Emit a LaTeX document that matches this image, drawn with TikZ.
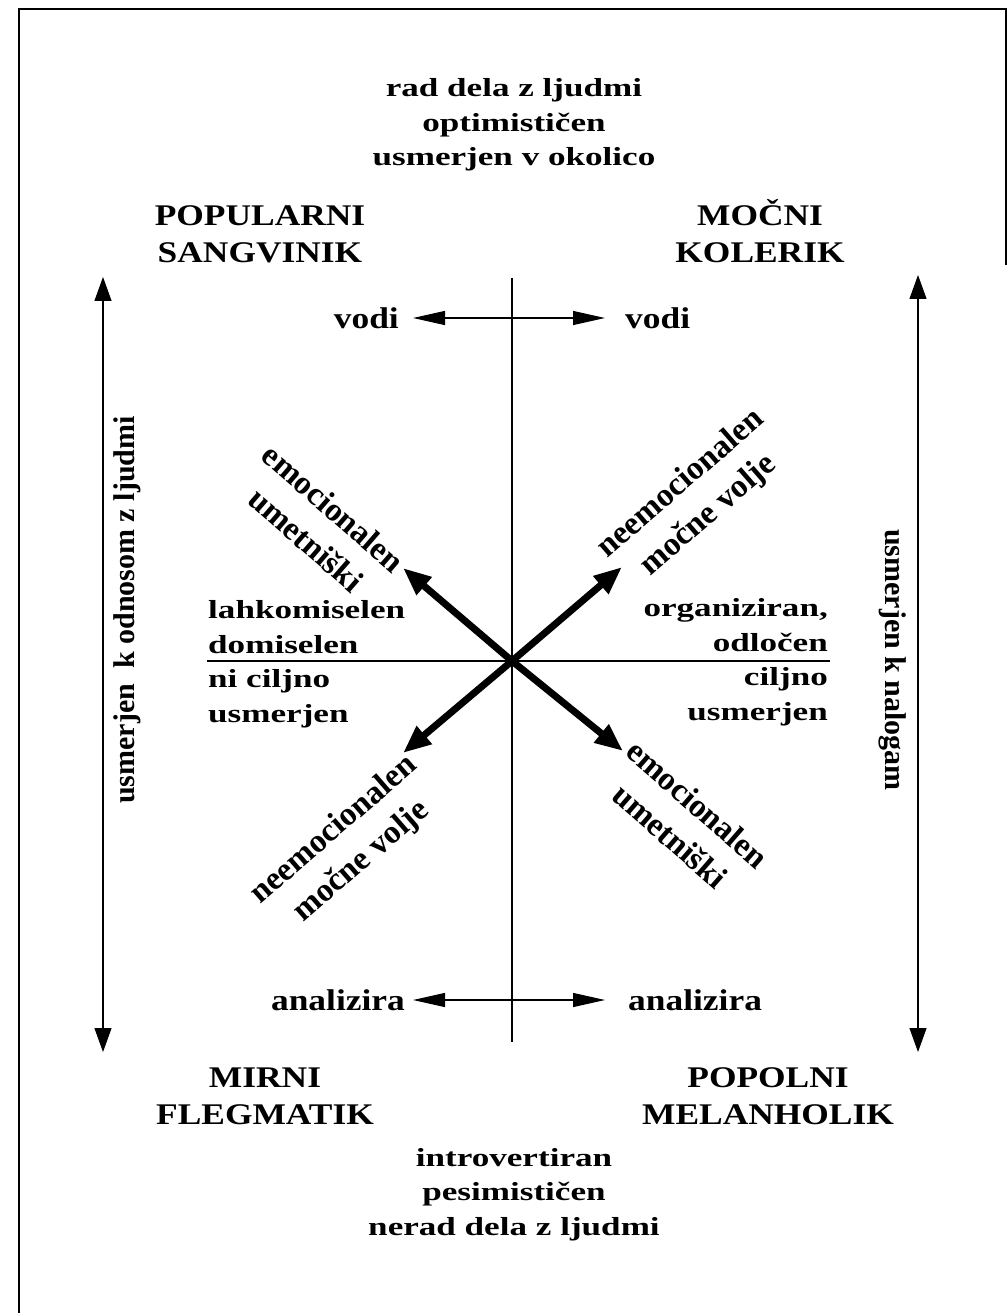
\documentclass[tikz,border=0pt]{standalone}
\usepackage{fontspec}
\setmainfont{Liberation Serif}
\newfontfamily\txtfont[FakeStretch=1.35]{Liberation Serif}
\newfontfamily\capfont[FakeStretch=1.18]{Liberation Serif}
\usetikzlibrary{arrows.meta,positioning}

\begin{document}
\begin{tikzpicture}[
    x=1pt, y=-1pt,
    txt/.style={font=\txtfont\bfseries\fontsize{26}{34.5}\selectfont, inner sep=0pt, align=center},
    kind/.style={font=\capfont\bfseries\fontsize{30}{37}\selectfont, inner sep=0pt, align=center},
    upr/.style={font=\bfseries\fontsize{30}{36}\selectfont, inner sep=0pt},
    slant/.style={font=\bfseries\fontsize{33}{42}\selectfont, inner sep=0pt, align=center},
    rule/.style={line width=1.2pt},
    twoway/.style={{Triangle[length=32pt,width=14pt]}-{Triangle[length=32pt,width=14pt]}, line width=1.2pt},
    tall/.style={{Triangle[length=24pt,width=17pt]}-{Triangle[length=24pt,width=17pt]}, line width=1.2pt},
    fat/.style={-{Triangle[length=28pt,width=22pt]}, line width=7pt}
  ]
  \useasboundingbox (0,0) rectangle (1008,1313);
  \draw[line width=2.5pt] (1006,265) -- (1006,9) -- (19,9) -- (19,1313);

  \coordinate (o) at (512,661);
  \coordinate (top) at (512,278);
  \coordinate (bot) at (512,1042);
  \coordinate (west) at (207,661);
  \coordinate (east) at (830,661);
  \coordinate (vl) at (413,318);
  \coordinate (vr) at (605,318);
  \coordinate (al) at (413,1000);
  \coordinate (ar) at (605,1000);
  \coordinate (lt) at (103,277);
  \coordinate (lb) at (103,1052);
  \coordinate (rt) at (918,275);
  \coordinate (rb) at (918,1052);
  \coordinate (nw) at (403,568);
  \coordinate (ne) at (622,567);
  \coordinate (sw) at (403,753);
  \coordinate (se) at (623,751);

  \node[txt, anchor=base] (head) at (514,166) {rad dela z ljudmi\\optimističen\\usmerjen v okolico};
  \node[kind, anchor=base] (sang) at (260,263) {POPULARNI\\SANGVINIK};
  \node[kind, anchor=base] (kole) at (760,263) {MOČNI\\KOLERIK};
  \node[kind, anchor=base] (fleg) at (265,1124) {MIRNI\\FLEGMATIK};
  \node[kind, anchor=base] (mela) at (768,1124) {POPOLNI\\MELANHOLIK};
  \node[txt, anchor=base] (foot) at (514,1235) {introvertiran\\pesimističen\\nerad dela z ljudmi};

  \node[kind, left=14pt of vl] (vodil) {vodi};
  \node[kind, right=20pt of vr] (vodir) {vodi};
  \node[kind, left=8pt of al] (anall) {analizira};
  \node[kind, right=23pt of ar] (analr) {analizira};

  \node[txt, anchor=base west, align=left] (lahk) at (208,722) {lahkomiselen\\domiselen\\ni ciljno\\usmerjen};
  \node[txt, anchor=base east, align=right] (orga) at (828,720) {organiziran,\\odločen\\ciljno\\usmerjen};

  \node[upr, rotate=90] (ljud) at (127,610) {usmerjen\enspace k odnosom z ljudmi};
  \node[upr, rotate=-90] (nalo) at (893,660) {usmerjen k nalogam};

  \node[slant, rotate=-41] (emo1) at (320,524) {emocionalen\\umetniški};
  \node[slant, rotate=41] (neem1) at (695,500) {neemocionalen\\močne volje};
  \node[slant, rotate=41] (neem2) at (348,846) {neemocionalen\\močne volje};
  \node[slant, rotate=-41] (emo2) at (684,820) {emocionalen\\umetniški};

  \draw[rule] (top) -- (bot);
  \draw[rule] (west) -- (east);
  \draw[twoway] (vl) -- (vr);
  \draw[twoway] (al) -- (ar);
  \draw[tall] (lt) -- (lb);
  \draw[tall] (rt) -- (rb);
  \draw[fat] (o) -- (nw);
  \draw[fat] (o) -- (ne);
  \draw[fat] (o) -- (sw);
  \draw[fat] (o) -- (se);
\end{tikzpicture}
\end{document}
